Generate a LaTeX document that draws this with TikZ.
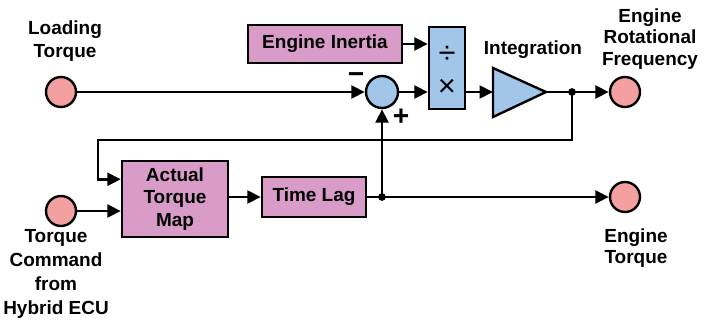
\documentclass[tikz,border=0pt]{standalone}
\usepackage{fontspec}
\setmainfont{Liberation Sans}
\usetikzlibrary{arrows.meta}

\definecolor{sigpink}{HTML}{F4A0A0}
\definecolor{blockpink}{HTML}{D99CC9}
\definecolor{opblue}{HTML}{A2C6EA}

\begin{document}
\begin{tikzpicture}[x=0.025cm,y=-0.025cm,
		font=\fontsize{13.5}{16}\selectfont\bfseries,
		port/.style={circle,draw,line width=1.7pt,fill=sigpink,minimum size=7.5mm,inner sep=0pt},
		block/.style={draw,line width=1.7pt,fill=blockpink,inner sep=0pt,align=center},
		op/.style={draw,line width=1.7pt,fill=opblue,inner sep=0pt},
		dot/.style={circle,fill,inner sep=0pt,minimum size=5.5pt},
		lbl/.style={align=center,inner sep=0pt},
		bigsym/.style={inner sep=0pt,font=\fontsize{22}{22}\selectfont},
		sign/.style={inner sep=0pt,font=\fontsize{20}{20}\selectfont\bfseries},
		sig/.style={line width=2.1pt,-{Triangle[length=9.5pt,width=9pt]}}]
		\useasboundingbox (0,0) rectangle (705,322);
		% inputs and outputs
		\node[port] (lt) at (61,92) {};
		\node[lbl] (ltlabel) at (65,41) {Loading\\Torque};
		\node[port] (tc) at (61,211) {};
		\node[lbl,font=\fontsize{13.5}{17}\selectfont\bfseries] (tclabel) at (56,274) {Torque\\Command\\from\\Hybrid ECU};
		\node[port] (erf) at (625,92) {};
		\node[lbl,font=\fontsize{13.5}{15}\selectfont\bfseries] (erflabel) at (650,39) {Engine\\Rotational\\Frequency};
		\node[port] (et) at (625,197) {};
		\node[lbl,font=\fontsize{13.5}{15.5}\selectfont\bfseries] (etlabel) at (636,248) {Engine\\Torque};
		% upper path: sum, divide/multiply, integrator
		\node[block,minimum width=38.5mm,minimum height=9.5mm] (inertia) at (325,44) {Engine Inertia};
		\node[op,minimum width=9mm,minimum height=20.5mm] (divmul) at (447,68) {};
		\node[bigsym] (divsym) at (447,55) {÷};
		\node[bigsym] (mulsym) at (447,88) {×};
		\node[op,circle,minimum size=8mm] (sum) at (382,92) {};
		\node[sign] (minus) at (356,78) {−};
		\node[sign] (plus) at (401,117) {+};
		\filldraw[fill=opblue,line width=1.7pt] (493,68) -- (546,92) -- (493,117) -- cycle;
		\coordinate (intin) at (493,92);
		\coordinate (intout) at (546,92);
		\node (intlabel) at (533,50) {Integration};
		% lower path
		\node[block,minimum width=26.5mm,minimum height=19mm] (atm) at (175,199) {Actual\\Torque\\Map};
		\node[block,minimum width=26mm,minimum height=10mm] (tl) at (314,197) {Time Lag};
		% signals
		\draw[sig] (lt) -- (sum);
		\draw[sig] (inertia) -- (divmul.west |- inertia);
		\draw[sig] (sum) -- (sum -| divmul.west);
		\draw[sig] (sum -| divmul.east) -- (intin);
		\draw[sig] (intout) -- (erf);
		\node[dot] (fbdot) at (572,92) {};
		\coordinate (fbturn) at (98,140);
		\draw[sig] (fbdot.center) |- (fbturn) |- (atm.160);
		\draw[sig] (tc) -- (tc -| atm.west);
		\draw[sig] (atm.east |- tl) -- (tl);
		\node[dot] (tldot) at (sum |- tl) {};
		\draw[sig] (tl) -- (et);
		\draw[sig] (tldot.center) -- (sum);
	\end{tikzpicture}
\end{document}
